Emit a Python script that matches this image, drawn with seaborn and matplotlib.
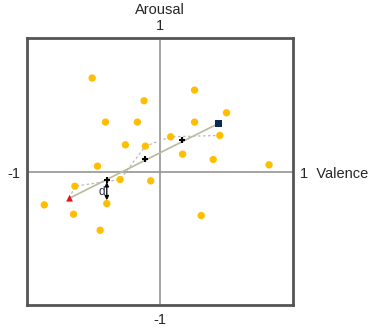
import matplotlib
matplotlib.use("Agg")
import matplotlib.pyplot as plt
import seaborn as sns
import pandas as pd

# Data (valence, arousal)
dot_valence = [-0.51, 0.26, -0.12, 0.50, -0.41, -0.17, 0.26, 0.45, 0.08, -0.26, -0.11,
               0.17, 0.40, 0.82, -0.47, -0.07, -0.30, -0.64, -0.40, -0.87, -0.65, 0.31, -0.45]
dot_arousal = [0.70, 0.61, 0.53, 0.44, 0.37, 0.37, 0.37, 0.27, 0.26, 0.20, 0.19,
               0.13, 0.09, 0.05, 0.04, -0.07, -0.06, -0.11, -0.24, -0.25, -0.32, -0.33, -0.44]

start_point = (-0.68, -0.20)
end_point = (0.44, 0.36)
cross_valence = [-0.40, -0.11, 0.165]
cross_arousal = [-0.06, 0.09, 0.235]
path_valence = [-0.68, -0.64, -0.30, -0.11, 0.08, 0.45]
path_arousal = [-0.20, -0.11, -0.06, 0.19, 0.26, 0.27]
d_from = (-0.40, -0.08)
d_to = (-0.40, -0.215)

sns.set_style("white")
plt.rcParams['font.family'] = ['Liberation Sans', 'DejaVu Sans']

fig = plt.figure(figsize=(3.74, 3.32), dpi=100)
ax = fig.add_axes([27/374, 27/332, 266/374, 267/332])
ax.set_xlim(-1, 1)
ax.set_ylim(-1, 1)

ax.axhline(0, color='#8c8c8c', lw=1.1, zorder=1)
ax.axvline(0, color='#8c8c8c', lw=1.1, zorder=1)

df_dots = pd.DataFrame({'valence': dot_valence, 'arousal': dot_arousal})
sns.scatterplot(data=df_dots, x='valence', y='arousal', ax=ax, color='#ffbf00',
                s=28, edgecolor='none', zorder=3)

df_path = pd.DataFrame({'valence': path_valence, 'arousal': path_arousal})
sns.lineplot(data=df_path, x='valence', y='arousal', ax=ax, sort=False,
             color='#b8b8b8', lw=0.9, linestyle=(0, (2, 2)), zorder=2)

ax.plot([start_point[0], end_point[0]], [start_point[1], end_point[1]],
        color='#b9b99c', lw=1.2, zorder=2)

ax.annotate('', xy=d_to, xytext=d_from,
            arrowprops=dict(arrowstyle='<|-|>', color='black', lw=0.9,
                            mutation_scale=6, shrinkA=0, shrinkB=0), zorder=4)
ax.text(d_from[0] - 0.012, (d_from[1] + d_to[1]) / 2 - 0.005, 'd', ha='right', va='center',
        fontsize=8.5, color='#1f2a44', zorder=4)

sns.scatterplot(x=cross_valence, y=cross_arousal, ax=ax, marker='+', color='black',
                s=25, linewidth=1.5, zorder=5)
ax.scatter([start_point[0]], [start_point[1]], marker='^', color='#e8111a', s=24,
           edgecolor='none', zorder=5)
ax.scatter([end_point[0]], [end_point[1]], marker='s', color='#0b2a5c', s=28,
           edgecolor='none', zorder=5)

for sp in ax.spines.values():
    sp.set_color('#555555')
    sp.set_linewidth(2)
ax.set_xticks([])
ax.set_yticks([])
ax.set_xlabel('')
ax.set_ylabel('')

fs = 10.5
fig.text(160/374, 1 - 10/332, 'Arousal', ha='center', va='center', fontsize=fs)
fig.text(160/374, 1 - 26/332, '1', ha='center', va='center', fontsize=fs)
fig.text(160/374, 1 - 320/332, '-1', ha='center', va='center', fontsize=fs)
fig.text(14/374, 1 - 174/332, '-1', ha='center', va='center', fontsize=fs)
fig.text(300/374, 1 - 174/332, '1  Valence', ha='left', va='center', fontsize=fs)

fig.savefig('out.png', dpi=100)
